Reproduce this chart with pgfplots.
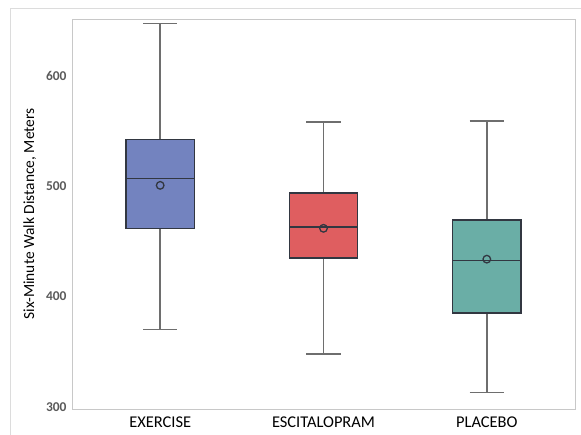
\documentclass[border=0pt]{standalone}
\usepackage{pgfplots}
\pgfplotsset{compat=1.18}
\usepackage{fontspec}
\setmainfont{Carlito}
\definecolor{cblue}{RGB}{115,131,191}
\definecolor{cred}{RGB}{223,94,96}
\definecolor{cteal}{RGB}{106,174,166}
\definecolor{wgray}{RGB}{110,110,110}
\definecolor{edge}{RGB}{50,55,65}
\definecolor{frameg}{RGB}{220,220,220}
\definecolor{axg}{RGB}{200,200,200}
\definecolor{tickg}{RGB}{90,90,90}
\pgfplotstableread{
pos lw q1 med q3 uw avg
0 370 462 507 542.6 648 501
1 348 435 463 494 558.5 462
2 313 385 433 469.5 559.5 434
}\stats
\begin{document}
\begin{tikzpicture}
\path[use as bounding box] (0bp,0bp) rectangle (581bp,435bp);
\draw[color=frameg, line width=1bp] (10bp,0bp) -- (10bp,426bp) -- (581bp,426bp);
\begin{axis}[
  at={(72bp,26bp)}, anchor=south west,
  scale only axis, width=503bp, height=390bp,
  xmin=-0.54, xmax=2.54, ymin=298, ymax=652,
  xtick={0,1,2}, xticklabels={EXERCISE,ESCITALOPRAM,PLACEBO},
  ytick={300,400,500,600},
  major tick length=0pt,
  axis line style={color=axg, line width=0.9bp},
  xticklabel style={font=\fontsize{16.5}{18}\selectfont, text=black, yshift=-4bp},
  yticklabel style={font=\fontsize{13.5}{15}\selectfont\bfseries, text=tickg, xshift=-2bp},
  /pgf/number format/assume math mode=true,
  ylabel={Six-Minute Walk Distance, Meters},
  ylabel style={font=\fontsize{15.5}{17}\selectfont, yshift=3bp},
  clip=false,
]
% whiskers (vertical)
\addplot[wgray, line width=1.5bp] coordinates {(0,370) (0,462)};
\addplot[wgray, line width=1.5bp] coordinates {(0,542.6) (0,648)};
\addplot[wgray, line width=1.5bp] coordinates {(1,348) (1,435)};
\addplot[wgray, line width=1.5bp] coordinates {(1,494) (1,558.5)};
\addplot[wgray, line width=1.5bp] coordinates {(2,313) (2,385)};
\addplot[wgray, line width=1.5bp] coordinates {(2,469.5) (2,559.5)};
% caps
\addplot[wgray, line width=1.5bp] coordinates {(-0.105,370) (0.105,370)};
\addplot[wgray, line width=1.5bp] coordinates {(-0.105,648) (0.105,648)};
\addplot[wgray, line width=1.5bp] coordinates {(0.895,348) (1.105,348)};
\addplot[wgray, line width=1.5bp] coordinates {(0.895,558.5) (1.105,558.5)};
\addplot[wgray, line width=1.5bp] coordinates {(1.895,313) (2.105,313)};
\addplot[wgray, line width=1.5bp] coordinates {(1.895,559.5) (2.105,559.5)};
% boxes
\addplot[fill=cblue, draw=edge, line width=1.4bp] coordinates {(-0.21,462) (0.21,462) (0.21,542.6) (-0.21,542.6)} -- cycle;
\addplot[fill=cred, draw=edge, line width=1.4bp] coordinates {(0.79,435) (1.21,435) (1.21,494) (0.79,494)} -- cycle;
\addplot[fill=cteal, draw=edge, line width=1.4bp] coordinates {(1.79,385) (2.21,385) (2.21,469.5) (1.79,469.5)} -- cycle;
% medians
\addplot[edge, line width=1.5bp] coordinates {(-0.21,507) (0.21,507)};
\addplot[edge, line width=1.5bp] coordinates {(0.79,463) (1.21,463)};
\addplot[edge, line width=1.5bp] coordinates {(1.79,433) (2.21,433)};
% means
\addplot[only marks, mark=o, mark size=3.8bp, mark options={draw=edge, line width=1.3bp}] table[x=pos, y=avg] {\stats};
\end{axis}
\end{tikzpicture}
\end{document}
